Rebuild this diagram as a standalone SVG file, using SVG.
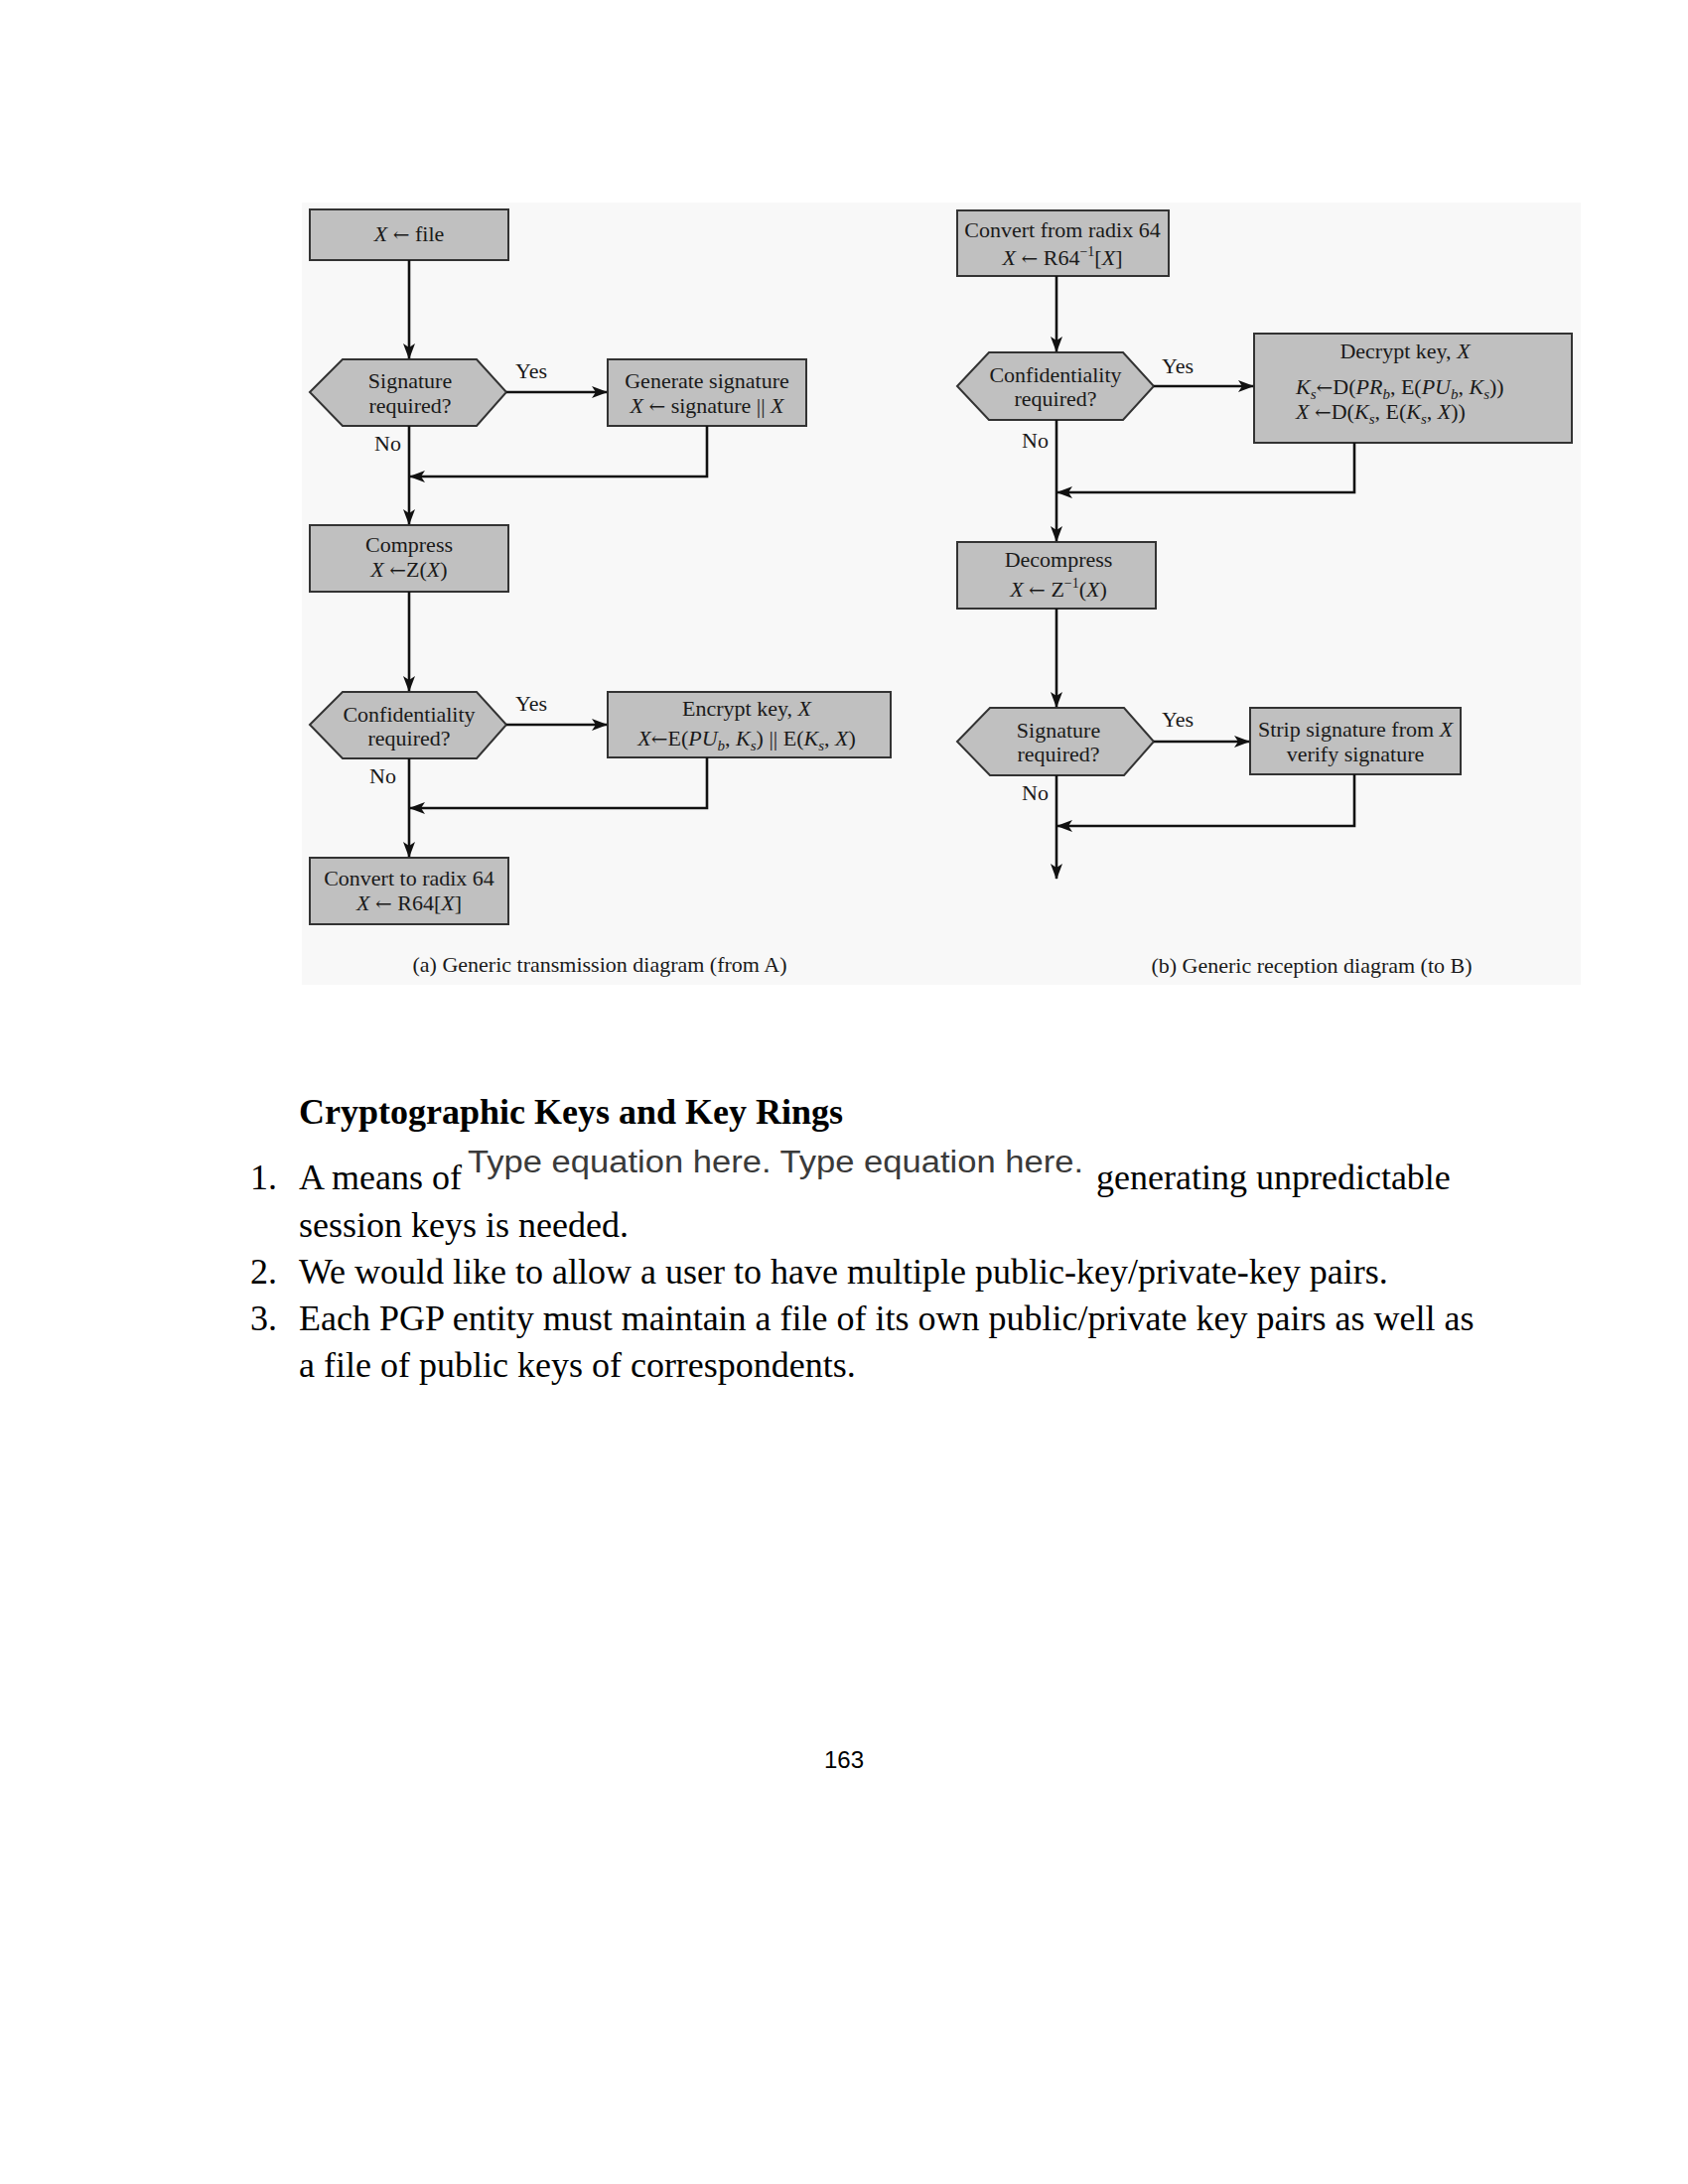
<svg xmlns="http://www.w3.org/2000/svg" width="1700" height="2200" viewBox="0 0 1700 2200">
<defs>
<marker id="ah" markerUnits="userSpaceOnUse" markerWidth="16" markerHeight="12" refX="15" refY="6" orient="auto">
<path d="M0,0 L16,6 L0,12 L4,6 z" fill="#111"/>
</marker>
<style>
.box{fill:#c0c0c0;stroke:#333;stroke-width:2}
.t{font-family:"Liberation Serif","Times New Roman",serif;font-size:22px;fill:#1a1a1a}
.c{text-anchor:middle}
.it{font-style:italic}
.ar{font-family:"DejaVu Serif",serif;font-size:20px}
.sub{font-size:15px;font-style:italic}
.sup{font-size:14px}
.edge{fill:none;stroke:#111;stroke-width:2.6}
.body{font-family:"Liberation Serif","Times New Roman",serif;font-size:36px;fill:#000}
</style>
</defs>
<rect width="1700" height="2200" fill="#ffffff"/>
<rect x="304" y="204" width="1288" height="788" fill="#f8f8f8"/>

<!-- Left diagram -->
<g id="n1"><rect class="box" x="312" y="211" width="200" height="51"/>
<text class="t c" x="412" y="243"><tspan class="it">X</tspan> <tspan class="ar">←</tspan> file</text></g>
<g id="d1"><polygon class="box" points="312,395 345,362 480,362 510,395 480,429 345,429"/>
<text class="t c" x="413" y="391">Signature</text><text class="t c" x="413" y="416">required?</text></g>
<g id="n2"><rect class="box" x="612" y="362" width="200" height="67"/>
<text class="t c" x="712" y="391">Generate signature</text>
<text class="t c" x="712" y="416"><tspan class="it">X</tspan> <tspan class="ar">←</tspan>  signature || <tspan class="it">X</tspan></text></g>
<g id="n3"><rect class="box" x="312" y="529" width="200" height="67"/>
<text class="t c" x="412" y="556">Compress</text>
<text class="t c" x="412" y="581"><tspan class="it">X</tspan> <tspan class="ar">←</tspan>Z(<tspan class="it">X</tspan>)</text></g>
<g id="d2"><polygon class="box" points="312,730 345,697 480,697 510,730 480,764 345,764"/>
<text class="t c" x="412" y="727">Confidentiality</text><text class="t c" x="412" y="751">required?</text></g>
<g id="n4"><rect class="box" x="612" y="697" width="285" height="66"/>
<text class="t c" x="752" y="721">Encrypt key, <tspan class="it">X</tspan></text>
<text class="t c" x="752" y="751"><tspan class="it">X</tspan><tspan class="ar">←</tspan>E(<tspan class="it">PU</tspan><tspan class="sub" dy="5">b</tspan><tspan dy="-5">, </tspan><tspan class="it">K</tspan><tspan class="sub" dy="5">s</tspan><tspan dy="-5">) || E(</tspan><tspan class="it">K</tspan><tspan class="sub" dy="5">s</tspan><tspan dy="-5">, </tspan><tspan class="it">X</tspan>)</text></g>
<g id="n5"><rect class="box" x="312" y="864" width="200" height="67"/>
<text class="t c" x="412" y="892">Convert to radix 64</text>
<text class="t c" x="412" y="917"><tspan class="it">X</tspan> <tspan class="ar">←</tspan> R64[<tspan class="it">X</tspan>]</text></g>

<!-- Right diagram -->
<g id="m1"><rect class="box" x="964" y="212" width="213" height="66"/>
<text class="t c" x="1070" y="239">Convert from radix 64</text>
<text class="t c" x="1070" y="267"><tspan class="it">X</tspan> <tspan class="ar">←</tspan> R64<tspan class="sup" dy="-9">−1</tspan><tspan dy="9">[</tspan><tspan class="it">X</tspan>]</text></g>
<g id="d3"><polygon class="box" points="964,389 996,355 1131,355 1162,389 1131,423 996,423"/>
<text class="t c" x="1063" y="385">Confidentiality</text><text class="t c" x="1063" y="409">required?</text></g>
<g id="m2"><rect class="box" x="1263" y="336" width="320" height="110"/>
<text class="t c" x="1415" y="361">Decrypt key, <tspan class="it">X</tspan></text>
<text class="t" x="1305" y="397"><tspan class="it">K</tspan><tspan class="sub" dy="5">s</tspan><tspan class="ar" dy="-5">←</tspan><tspan>D(</tspan><tspan class="it">PR</tspan><tspan class="sub" dy="5">b</tspan><tspan dy="-5">, E(</tspan><tspan class="it">PU</tspan><tspan class="sub" dy="5">b</tspan><tspan dy="-5">, </tspan><tspan class="it">K</tspan><tspan class="sub" dy="5">s</tspan><tspan dy="-5">))</tspan></text>
<text class="t" x="1305" y="422"><tspan class="it">X</tspan> <tspan class="ar">←</tspan>D(<tspan class="it">K</tspan><tspan class="sub" dy="5">s</tspan><tspan dy="-5">, E(</tspan><tspan class="it">K</tspan><tspan class="sub" dy="5">s</tspan><tspan dy="-5">, </tspan><tspan class="it">X</tspan>))</text></g>
<g id="m3"><rect class="box" x="964" y="546" width="200" height="67"/>
<text class="t c" x="1066" y="571">Decompress</text>
<text class="t c" x="1066" y="601"><tspan class="it">X</tspan> <tspan class="ar">←</tspan> Z<tspan class="sup" dy="-9">−1</tspan><tspan dy="9">(</tspan><tspan class="it">X</tspan>)</text></g>
<g id="d4"><polygon class="box" points="964,747 997,713 1132,713 1162,747 1132,781 997,781"/>
<text class="t c" x="1066" y="743">Signature</text><text class="t c" x="1066" y="767">required?</text></g>
<g id="m4"><rect class="box" x="1259" y="713" width="212" height="67"/>
<text class="t c" x="1365" y="742">Strip signature from <tspan class="it">X</tspan></text>
<text class="t c" x="1365" y="767">verify signature</text></g>

<!-- Connectors -->
<g id="connectors">
<line class="edge" x1="412" y1="262" x2="412" y2="361" marker-end="url(#ah)"/>
<line class="edge" x1="510" y1="395" x2="611" y2="395" marker-end="url(#ah)"/>
<line class="edge" x1="412" y1="429" x2="412" y2="528" marker-end="url(#ah)"/>
<polyline class="edge" points="712,429 712,480 413,480" marker-end="url(#ah)"/>
<line class="edge" x1="412" y1="596" x2="412" y2="696" marker-end="url(#ah)"/>
<line class="edge" x1="510" y1="730" x2="611" y2="730" marker-end="url(#ah)"/>
<line class="edge" x1="412" y1="764" x2="412" y2="863" marker-end="url(#ah)"/>
<polyline class="edge" points="712,763 712,814 413,814" marker-end="url(#ah)"/>

<line class="edge" x1="1064" y1="278" x2="1064" y2="354" marker-end="url(#ah)"/>
<line class="edge" x1="1162" y1="389" x2="1262" y2="389" marker-end="url(#ah)"/>
<line class="edge" x1="1064" y1="423" x2="1064" y2="545" marker-end="url(#ah)"/>
<polyline class="edge" points="1364,446 1364,496 1065,496" marker-end="url(#ah)"/>
<line class="edge" x1="1064" y1="613" x2="1064" y2="712" marker-end="url(#ah)"/>
<line class="edge" x1="1162" y1="747" x2="1258" y2="747" marker-end="url(#ah)"/>
<line class="edge" x1="1064" y1="781" x2="1064" y2="885" marker-end="url(#ah)"/>
<polyline class="edge" points="1364,780 1364,832 1065,832" marker-end="url(#ah)"/>

<text class="t" x="519" y="381">Yes</text>
<text class="t" x="377" y="454">No</text>
<text class="t" x="519" y="716">Yes</text>
<text class="t" x="372" y="789">No</text>
<text class="t" x="1170" y="376">Yes</text>
<text class="t" x="1029" y="451">No</text>
<text class="t" x="1170" y="732">Yes</text>
<text class="t" x="1029" y="806">No</text>
</g>

<text class="t c" x="604" y="979">(a) Generic transmission diagram (from A)</text>
<text class="t c" x="1321" y="980">(b) Generic reception diagram (to B)</text>

<!-- Body text -->
<text class="body" x="301" y="1132" font-weight="bold">Cryptographic Keys and Key Rings</text>
<text class="body" x="252" y="1198">1.</text>
<text class="body" x="301" y="1198">A means of</text>
<text x="471" y="1181" font-family="'Liberation Sans','Open Sans',sans-serif" font-size="31" fill="#3a3a3a" textLength="620" lengthAdjust="spacingAndGlyphs">Type equation here. Type equation here.</text>
<text class="body" x="1104" y="1198">generating unpredictable</text>
<text class="body" x="301" y="1246">session keys is needed.</text>
<text class="body" x="252" y="1293">2.</text>
<text class="body" x="301" y="1293">We would like to allow a user to have multiple public-key/private-key pairs.</text>
<text class="body" x="252" y="1340">3.</text>
<text class="body" x="301" y="1340">Each PGP entity must maintain a file of its own public/private key pairs as well as</text>
<text class="body" x="301" y="1387">a file of public keys of correspondents.</text>

<text x="850" y="1781" text-anchor="middle" font-family="'Liberation Sans','Open Sans',sans-serif" font-size="24" fill="#000">163</text>
</svg>
